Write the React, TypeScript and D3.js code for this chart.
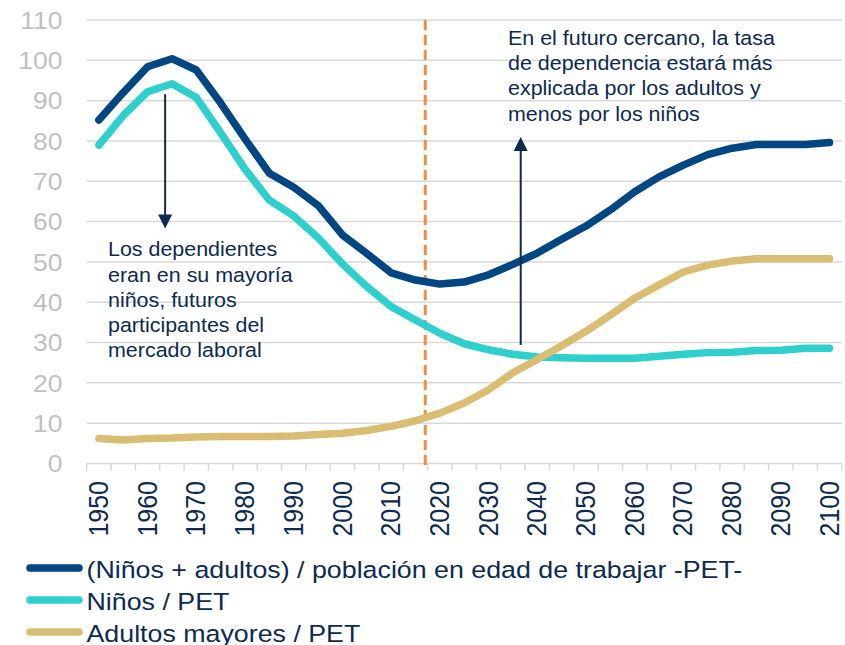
import * as d3 from "d3";
import React, { useEffect, useRef } from "react";

// categories (every 5 years) and tick labels
const years = [
  1950, 1955, 1960, 1965, 1970, 1975, 1980, 1985, 1990, 1995, 2000, 2005, 2010, 2015, 2020, 2025,
  2030, 2035, 2040, 2045, 2050, 2055, 2060, 2065, 2070, 2075, 2080, 2085, 2090, 2095, 2100,
];
const yTicks = [0, 10, 20, 30, 40, 50, 60, 70, 80, 90, 100, 110];

// (Niños + adultos) / PET
const totalRatio = [
  85.2, 92, 98.4, 100.4, 97.6, 89.4, 80.5, 72, 68.5, 64, 56.7, 52.1, 47.3, 45.5, 44.5, 45,
  46.8, 49.4, 52.2, 55.6, 58.9, 62.9, 67.4, 71.1, 74, 76.6, 78.2, 79.1, 79.1, 79.1, 79.6,
];
// Niños / PET
const childRatio = [
  79, 86.3, 92.2, 94.2, 90.8, 82, 73, 65.3, 61.4, 56, 49.5, 43.9, 38.9, 35.6, 32.3, 29.7,
  28.2, 27.1, 26.4, 26.2, 26.1, 26.1, 26.1, 26.6, 27.1, 27.5, 27.6, 28, 28.1, 28.6, 28.6,
];
// Adultos mayores / PET
const elderRatio = [
  6.2, 5.8, 6.2, 6.3, 6.6, 6.7, 6.7, 6.7, 6.8, 7.2, 7.5, 8.2, 9.2, 10.6, 12.5, 15,
  18.3, 22.5, 25.8, 29.2, 32.8, 36.8, 41, 44.3, 47.5, 49.2, 50.2, 50.8, 50.8, 50.8, 50.8,
];

const seriesNames = [
  "(Niños + adultos) / población en edad de trabajar -PET-",
  "Niños / PET",
  "Adultos mayores / PET",
];
const seriesColors = ["#004682", "#2ecfcc", "#d9bd73"];

const leftNote = [
  "Los dependientes",
  "eran en su mayoría",
  "niños, futuros",
  "participantes del",
  "mercado laboral",
];
const rightNote = [
  "En el futuro cercano, la tasa",
  "de dependencia estará más",
  "explicada por los adultos y",
  "menos por los niños",
];

const W = 845;
const H = 645;
const FONT = "'Liberation Sans', Arial, sans-serif";
const NAVY = "#0e2a4e";
// text in the original is a bit wider than tall
const SX = 1.12;

export default function App() {
  const ref = useRef<SVGSVGElement>(null);

  useEffect(() => {
    const svg = d3.select(ref.current);
    svg.selectAll("*").remove();

    const x = d3.scaleBand<number>().domain(years).range([86.7, 841.7]).padding(0);
    const bw = x.bandwidth();
    const cx = (yr: number) => (x(yr) as number) + bw / 2;
    // continuous year position for annotations
    const xYear = d3.scaleLinear().domain([1950, 2100]).range([cx(1950), cx(2100)]);
    const y = d3.scaleLinear().domain([0, 110]).range([463.5, 20]);

    // gridlines
    svg
      .append("g")
      .selectAll("line")
      .data(yTicks.filter((t) => t > 0))
      .enter()
      .append("line")
      .attr("x1", 86.7)
      .attr("x2", 841.7)
      .attr("y1", (d) => y(d))
      .attr("y2", (d) => y(d))
      .attr("stroke", "#d9d9d9")
      .attr("stroke-width", 1.5);

    // y labels
    svg
      .append("g")
      .selectAll("text")
      .data(yTicks)
      .enter()
      .append("text")
      .attr("transform", (d) => `translate(62.5,${y(d)}) scale(1.08,1)`)
      .attr("dy", "0.36em")
      .attr("text-anchor", "end")
      .attr("font-family", FONT)
      .attr("font-size", 24.5)
      .attr("fill", "#bfbfbf")
      .text((d) => d);

    // x axis line + ticks
    const axis = svg.append("g");
    axis
      .append("line")
      .attr("x1", 86.7)
      .attr("x2", 841.7)
      .attr("y1", y(0))
      .attr("y2", y(0))
      .attr("stroke", "#d9d9d9")
      .attr("stroke-width", 1.5);
    axis
      .selectAll("line.tick")
      .data([...years.map((d) => x(d) as number), 841.7])
      .enter()
      .append("line")
      .attr("class", "tick")
      .attr("x1", (d) => d)
      .attr("x2", (d) => d)
      .attr("y1", y(0))
      .attr("y2", y(0) + 7)
      .attr("stroke", "#d9d9d9")
      .attr("stroke-width", 1.5);

    // x labels, rotated
    axis
      .selectAll("text")
      .data(years.filter((d) => d % 10 === 0))
      .enter()
      .append("text")
      .attr("transform", (d) => `translate(${cx(d) - 1},481) rotate(-90) scale(1,${SX})`)
      .attr("dy", "0.36em")
      .attr("text-anchor", "end")
      .attr("font-family", FONT)
      .attr("font-size", 25)
      .attr("fill", NAVY)
      .text((d) => d);

    // dashed 2017 marker
    svg
      .append("line")
      .attr("x1", xYear(2017))
      .attr("x2", xYear(2017))
      .attr("y1", y(110))
      .attr("y2", y(0) + 2)
      .attr("stroke", "#f58b3b")
      .attr("stroke-width", 3)
      .attr("stroke-dasharray", "10,5");

    // series
    const line = d3
      .line<number>()
      .x((_, i) => cx(years[i]))
      .y((d) => y(d));
    [totalRatio, childRatio, elderRatio].forEach((s, i) => {
      svg
        .append("path")
        .datum(s)
        .attr("d", line)
        .attr("fill", "none")
        .attr("stroke", seriesColors[i])
        .attr("stroke-width", 7.5)
        .attr("stroke-linecap", "round")
        .attr("stroke-linejoin", "round");
    });

    // arrows
    const arrow = (yr: number, from: number, to: number) => {
      const ax = xYear(yr);
      const y0 = y(from);
      const y1 = y(to);
      const dir = y1 > y0 ? 1 : -1;
      svg
        .append("line")
        .attr("x1", ax)
        .attr("x2", ax)
        .attr("y1", y0)
        .attr("y2", y1 - dir * 12)
        .attr("stroke", NAVY)
        .attr("stroke-width", 2);
      svg
        .append("path")
        .attr("d", `M${ax - 7},${y1 - dir * 14} L${ax + 7},${y1 - dir * 14} L${ax},${y1} Z`)
        .attr("fill", NAVY);
    };
    arrow(1963.6, 91.6, 58.3);
    arrow(2036.6, 29.4, 81);

    // notes
    const note = (lines: string[], nx: number, ny: number) => {
      const t = svg
        .append("text")
        .attr("transform", `translate(${nx},0) scale(1.1,1)`)
        .attr("font-family", FONT)
        .attr("font-size", 19.5)
        .attr("fill", NAVY);
      lines.forEach((l, i) => {
        t.append("tspan").attr("x", 0).attr("y", ny + i * 25.2).text(l);
      });
    };
    note(leftNote, 108, 256.5);
    note(rightNote, 508, 45);

    // legend
    const leg = svg.append("g");
    seriesNames.forEach((name, i) => {
      const ly = 568 + i * 32;
      leg
        .append("line")
        .attr("x1", 30)
        .attr("x2", 79)
        .attr("y1", ly)
        .attr("y2", ly)
        .attr("stroke", seriesColors[i])
        .attr("stroke-width", 7.5)
        .attr("stroke-linecap", "round");
      leg
        .append("text")
        .attr("transform", `translate(86.5,${ly + 9.5}) scale(1.14,1)`)
        .attr("font-family", FONT)
        .attr("font-size", 23.5)
        .attr("fill", NAVY)
        .text(name);
    });
  }, []);

  return (
    <svg
      ref={ref}
      width={W}
      height={H}
      style={{ position: "absolute", left: 0, top: 0, background: "#fff" }}
    />
  );
}
